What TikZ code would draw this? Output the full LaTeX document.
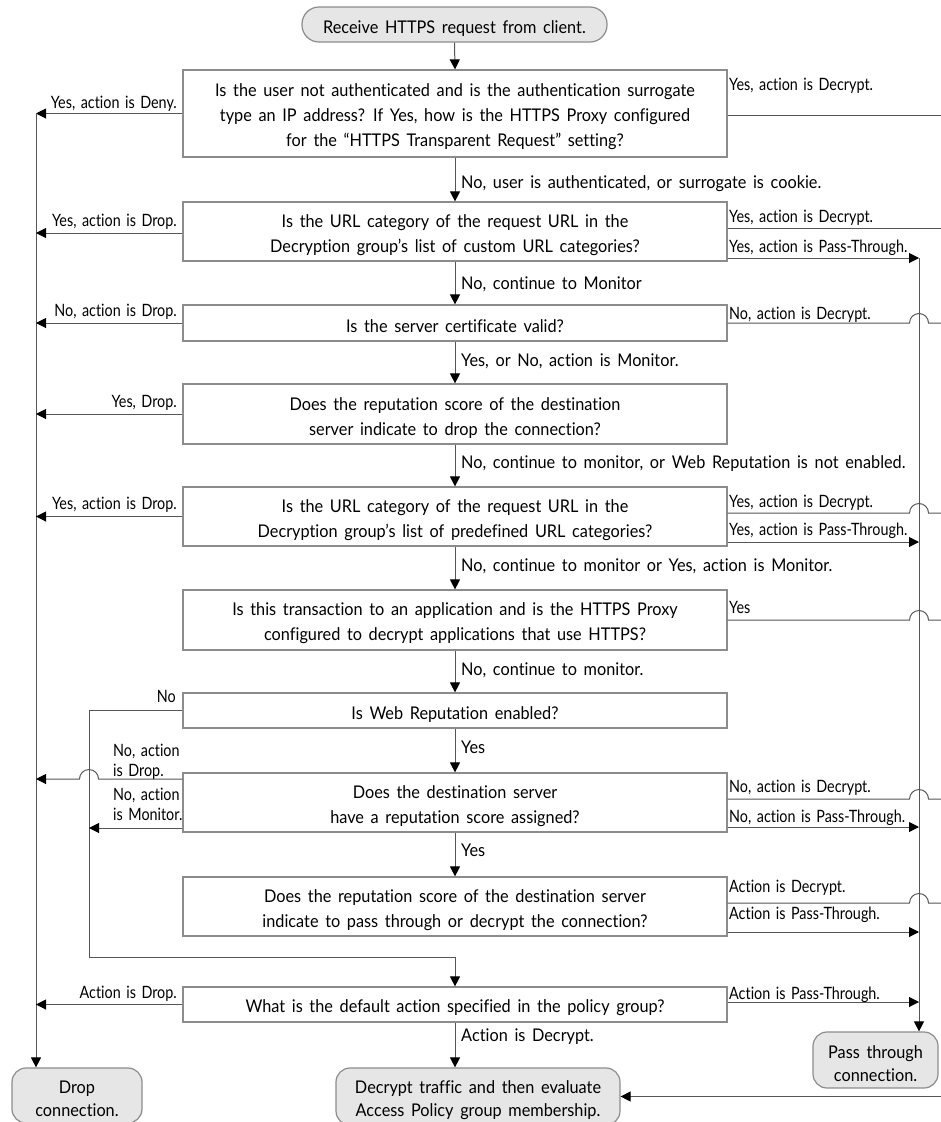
\documentclass[tikz,border=0pt]{standalone}
\usepackage{fontspec}
\setmainfont{Lato}[FakeStretch=0.845,WordSpace=1.5,Ligatures=NoCommon]
\newfontfamily\bigfont{Lato}[FakeStretch=0.93,WordSpace=1.6,Ligatures=NoCommon]
\usetikzlibrary{arrows.meta,calc}
\definecolor{linegray}{HTML}{555555}
\definecolor{boxgray}{HTML}{8C8C8C}
\definecolor{termfill}{HTML}{E6E6E6}
\newcommand{\tstrut}{\rule{0pt}{20pt}}
\begin{document}
\begin{tikzpicture}[x=1pt,y=-1pt,
  every node/.style={font=\bigfont\fontsize{17.5}{25}\selectfont, text=black},
  qbox/.style={draw=boxgray, line width=1.2pt, fill=white, align=center, inner sep=2pt, minimum width=544pt},
  term/.style={draw=boxgray, line width=1.2pt, fill=termfill, align=center, inner sep=2pt, rounded corners=14pt, font=\bigfont\fontsize{17.5}{23}\selectfont},
  conn/.style={draw=linegray, line width=1pt},
  arr/.style={conn, -{Triangle[length=10pt,width=10pt,color=black]}},
  lab/.style={inner sep=0pt},
  side/.style={inner sep=0pt, font=\rmfamily\fontsize{17}{20}\selectfont},
  side2/.style={inner sep=0pt, align=left, font=\rmfamily\fontsize{17}{20}\selectfont},
]
\clip (0,0) rectangle (941,1122);
% coordinates of the vertical lanes
\coordinate (Lx) at (36,0);
\coordinate (Mx) at (89,0);
\coordinate (Px) at (919,0);
\coordinate (Rx) at (941,0);

% terminals
\node[term, minimum width=305pt, minimum height=35pt, rounded corners=17pt] (start) at (454.5,24.5) {\tstrut Receive HTTPS request from client.};
\node[term, minimum width=130pt, minimum height=55pt] (drop) at (77,1095.5) {\tstrut Drop\\connection.};
\node[term, minimum width=284pt, minimum height=57pt] (dec) at (478,1096.5) {\tstrut Decrypt traffic and then evaluate\\Access Policy group membership.};
\node[term, minimum width=125pt, minimum height=56pt] (pass) at (875.5,1060) {\tstrut Pass through\\connection.};

% question boxes
\node[qbox, minimum height=87pt] (b1) at (455,113.5) {\tstrut Is the user not authenticated and is the authentication surrogate\\type an IP address? If Yes, how is the HTTPS Proxy configured\\for the “HTTPS Transparent Request” setting?};
\node[qbox, minimum height=59pt] (b2) at (455,231.5) {\tstrut Is the URL category of the request URL in the\\Decryption group’s list of custom URL categories?};
\node[qbox, minimum height=36pt] (b3) at (455,323) {\tstrut Is the server certificate valid?};
\node[qbox, minimum height=60pt] (b4) at (455,414) {\tstrut Does the reputation score of the destination\\server indicate to drop the connection?};
\node[qbox, minimum height=59pt] (b5) at (455,516.5) {\tstrut Is the URL category of the request URL in the\\Decryption group’s list of predefined URL categories?};
\node[qbox, minimum height=60pt] (b6) at (455,620) {\tstrut Is this transaction to an application and is the HTTPS Proxy\\configured to decrypt applications that use HTTPS?};
\node[qbox, minimum height=35pt] (b7) at (455,710.5) {\tstrut Is Web Reputation enabled?};
\node[qbox, minimum height=59pt] (b8) at (455,802.5) {\tstrut Does the destination server\\have a reputation score assigned?};
\node[qbox, minimum height=59pt] (b9) at (455,906.5) {\tstrut Does the reputation score of the destination server\\indicate to pass through or decrypt the connection?};
\node[qbox, minimum height=35pt] (b10) at (455,1004.5) {\tstrut What is the default action specified in the policy group?};

% main flow
\draw[arr] (start.south) -- (b1.north);
\draw[arr] (b1) -- (b2);
\draw[arr] (b2) -- (b3);
\draw[arr] (b3) -- (b4);
\draw[arr] (b4) -- (b5);
\draw[arr] (b5) -- (b6);
\draw[arr] (b6) -- (b7);
\draw[arr] (b7) -- (b8);
\draw[arr] (b8) -- (b9);
\draw[arr] (b10.south) -- (b10.south |- dec.north);

% left lane (drop)
\draw[arr] (Lx |- b1.west) -- (Lx |- drop.north);
\draw[arr] (b1.west) -- (b1.west -| Lx);
\draw[arr] (b2.west |- 0,233) -- (Lx |- 0,233);
\draw[arr] (b3.west) -- (b3.west -| Lx);
\draw[arr] (b4.west) -- (b4.west -| Lx);
\draw[arr] (b5.west) -- (b5.west -| Lx);
\draw[arr] (b8.west |- 0,779) -- ($(Mx |- 0,779)+(9.5,0)$) arc[start angle=0,end angle=180,radius=9.5pt] -- (Lx |- 0,779);
\draw[arr] (b10.west) -- (b10.west -| Lx);

% web reputation loop
\draw[arr] (b7.west) -- (Mx |- b7.west) -- (Mx |- 0,957) -- (b10.north |- 0,957) -- (b10.north);
\draw[arr] (b8.west |- 0,828) -- (Mx |- 0,828);

% right side: decrypt lines
\draw[conn] (b1.east |- 0,115) -- (Rx |- 0,115);
\draw[conn] (b2.east |- 0,228) -- (Rx |- 0,228);
\draw[conn] (b3.east) -- ($(Px |- b3.east)-(9.5,0)$) arc[start angle=180,end angle=0,radius=9.5pt] -- (Rx |- b3.east);
\draw[conn] (b5.east |- 0,513) -- ($(Px |- 0,513)-(9.5,0)$) arc[start angle=180,end angle=0,radius=9.5pt] -- (Rx |- 0,513);
\draw[conn] (b6.east) -- ($(Px |- b6.east)-(9.5,0)$) arc[start angle=180,end angle=0,radius=9.5pt] -- (Rx |- b6.east);
\draw[conn] (b8.east |- 0,799) -- ($(Px |- 0,799)-(9.5,0)$) arc[start angle=180,end angle=0,radius=9.5pt] -- (Rx |- 0,799);
\draw[conn] (b9.east |- 0,903) -- ($(Px |- 0,903)-(9.5,0)$) arc[start angle=180,end angle=0,radius=9.5pt] -- (Rx |- 0,903);
\draw[arr] (Rx |- dec.east) -- (dec.east);

% right side: pass-through lines
\draw[arr] (Px |- 0,258) -- (Px |- pass.north);
\draw[arr] (b2.east |- 0,258) -- (Px |- 0,258);
\draw[arr] (b5.east |- 0,542) -- (Px |- 0,542);
\draw[arr] (b8.east |- 0,827) -- (Px |- 0,827);
\draw[arr] (b9.east |- 0,932) -- (Px |- 0,932);
\draw[arr] (b10.east |- 0,1002) -- (Px |- 0,1002);

% left labels
\node[side, anchor=base east] (ll1) at (177,108) {Yes, action is Deny.};
\node[side, anchor=base east] (ll2) at (177,226) {Yes, action is Drop.};
\node[side, anchor=base east] (ll3) at (177,316) {No, action is Drop.};
\node[side, anchor=base east] (ll4) at (177,407) {Yes, Drop.};
\node[side, anchor=base east] (ll5) at (177,509) {Yes, action is Drop.};
\node[side, anchor=base east] (ll7) at (176,702) {No};
\node[side2, anchor=west] (ll8a) at (113,762) {No, action\\is Drop.};
\node[side2, anchor=west] (ll8b) at (113,804) {No, action\\is Monitor.};
\node[side, anchor=base east] (ll10) at (177,998) {Action is Drop.};

% right labels
\node[side, anchor=base west] (rl1) at (729,90) {Yes, action is Decrypt.};
\node[side, anchor=base west] (rl2a) at (729,222.5) {Yes, action is Decrypt.};
\node[side, anchor=base west] (rl2b) at (729,252) {Yes, action is Pass-Through.};
\node[side, anchor=base west] (rl3) at (729,319) {No, action is Decrypt.};
\node[side, anchor=base west] (rl5a) at (729,507) {Yes, action is Decrypt.};
\node[side, anchor=base west] (rl5b) at (729,535) {Yes, action is Pass-Through.};
\node[side, anchor=base west] (rl6) at (729,613) {Yes};
\node[side, anchor=base west] (rl8a) at (729,792) {No, action is Decrypt.};
\node[side, anchor=base west] (rl8b) at (729,822) {No, action is Pass-Through.};
\node[side, anchor=base west] (rl9a) at (729,892) {Action is Decrypt.};
\node[side, anchor=base west] (rl9b) at (729,919) {Action is Pass-Through.};
\node[side, anchor=base west] (rl10) at (729,999) {Action is Pass-Through.};

% middle labels
\node[lab, anchor=base west] (m1) at (461,188) {No, user is authenticated, or surrogate is cookie.};
\node[lab, anchor=base west] (m2) at (461,289) {No, continue to Monitor};
\node[lab, anchor=base west] (m3) at (461,366) {Yes, or No, action is Monitor.};
\node[lab, anchor=base west] (m4) at (461,468) {No, continue to monitor, or Web Reputation is not enabled.};
\node[lab, anchor=base west] (m5) at (461,571) {No, continue to monitor or Yes, action is Monitor.};
\node[lab, anchor=base west] (m6) at (461,675) {No, continue to monitor.};
\node[lab, anchor=base west] (m7) at (461,753) {Yes};
\node[lab, anchor=base west] (m8) at (461,856) {Yes};
\node[lab, anchor=base west] (m9) at (461,1041) {Action is Decrypt.};
\end{tikzpicture}
\end{document}
